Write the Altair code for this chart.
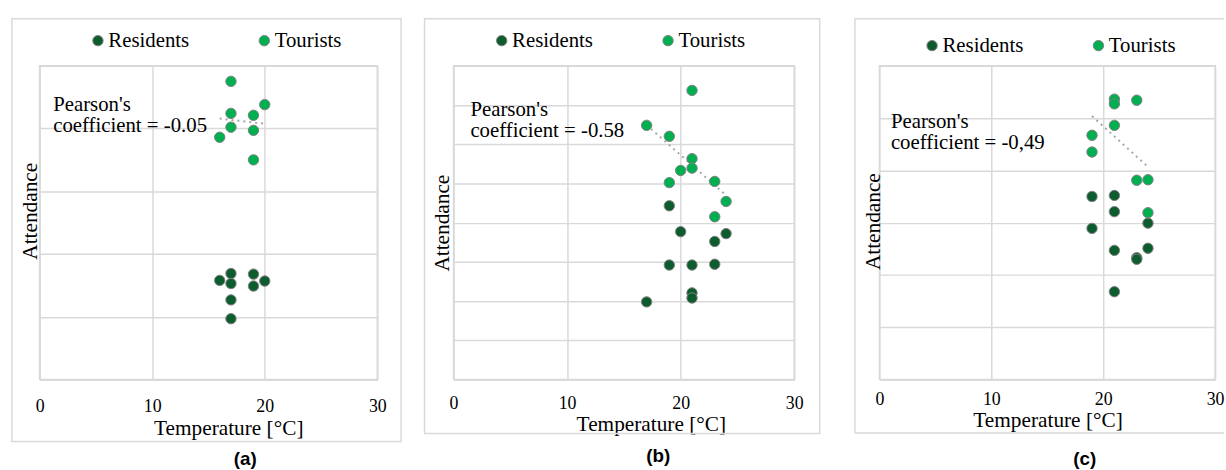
import altair as alt
import pandas as pd

# ---------------- data ----------------
# panel (a)
res_a_temp = [17, 19, 16, 20, 17, 19, 17, 17]
res_a_att = [1.69, 1.68, 1.58, 1.57, 1.53, 1.49, 1.27, 0.97]
tour_a_temp = [17, 20, 17, 19, 17, 19, 16, 19]
tour_a_att = [4.75, 4.38, 4.24, 4.21, 4.02, 3.97, 3.86, 3.50]
pearson_a = ["Pearson's", "coefficient = -0.05"]

# panel (b)
res_b_temp = [19, 20, 24, 23, 19, 21, 23, 21, 21, 17]
res_b_att = [4.43, 3.77, 3.72, 3.52, 2.92, 2.92, 2.94, 2.21, 2.08, 1.98]
tour_b_temp = [21, 17, 19, 21, 21, 20, 19, 23, 24, 23]
tour_b_att = [7.37, 6.48, 6.20, 5.63, 5.39, 5.33, 5.02, 5.05, 4.54, 4.15]
pearson_b = ["Pearson's", "coefficient = -0.58"]

# panel (c)
res_c_temp = [19, 21, 21, 24, 19, 21, 24, 23, 23, 21]
res_c_att = [3.50, 3.52, 3.21, 2.99, 2.89, 2.47, 2.51, 2.33, 2.30, 1.68]
tour_c_temp = [21, 21, 23, 21, 19, 19, 23, 24, 24]
tour_c_att = [5.36, 5.27, 5.34, 4.86, 4.67, 4.35, 3.81, 3.82, 3.19]
pearson_c = ["Pearson's", "coefficient = -0,49"]

groups = ["Residents", "Tourists"]
x_ticks = [0, 10, 20, 30]
tags = ["(a)", "(b)", "(c)"]

SERIF = "Liberation Serif"
DARK = "#0D5C2E"
LIGHT = "#00B050"
GRID = "#D9D9D9"
H = 317


def make_df(rt, ra, tt, ta):
    return pd.DataFrame({
        "temp": rt + tt,
        "att": ra + ta,
        "group": [groups[0]] * len(rt) + [groups[1]] * len(tt),
    })


one = pd.DataFrame({"k": [0]})


def panel(df, ymax, width, box, legend_xy, pearson, pearson_xy, xtitle_xy,
          ytitle_xy, tag, tag_xy, label_pad, open_right=False):
    x = alt.X("temp:Q", scale=alt.Scale(domain=[0, 30], nice=False),
              axis=alt.Axis(values=x_ticks, ticks=False, labelFlush=False,
                            labelPadding=label_pad, title="Temperature [°C]",
                            titleX=xtitle_xy[0], titleY=xtitle_xy[1],
                            titleAlign="center", titleBaseline="alphabetic"))
    y = alt.Y("att:Q", scale=alt.Scale(domain=[0, ymax], nice=False),
              axis=alt.Axis(values=list(range(0, ymax + 1)), ticks=False,
                            labels=False, domain=False, title="Attendance",
                            titleX=ytitle_xy[0], titleY=ytitle_xy[1],
                            titleAlign="center", titleBaseline="middle"))

    base = alt.Chart(df)
    trend = base.transform_filter(alt.datum.group == groups[1]).transform_regression(
        "temp", "att").mark_line(color="#A6A6A6", strokeWidth=2,
                                 strokeDash=[2, 4]).encode(x=x, y=y)
    pts = base.mark_circle(size=110, opacity=1, stroke="#7F7F7F",
                           strokeWidth=1).encode(
        x=x, y=y,
        color=alt.Color("group:N", title=None,
                        scale=alt.Scale(domain=groups, range=[DARK, LIGHT]),
                        legend=alt.Legend(orient="none", legendX=legend_xy[0],
                                          legendY=legend_xy[1],
                                          direction="horizontal",
                                          labelFont=SERIF, labelFontSize=21,
                                          labelColor="black", symbolType="circle",
                                          symbolSize=110,
                                          symbolStrokeColor="#7F7F7F",
                                          symbolStrokeWidth=1, symbolOpacity=1,
                                          columnPadding=65, labelOffset=0,
                                          padding=0)))
    ptext = alt.Chart(one).mark_text(font=SERIF, fontSize=21, align="left",
                                     baseline="top", lineHeight=21,
                                     color="black").encode(
        x=alt.value(pearson_xy[0]), y=alt.value(pearson_xy[1]),
        text=alt.value(pearson))
    ttext = alt.Chart(one).mark_text(font="Liberation Sans", fontSize=19,
                                     fontWeight="bold", align="center",
                                     baseline="middle", color="black").encode(
        x=alt.value(tag_xy[0]), y=alt.value(tag_xy[1]), text=alt.value(tag))

    l, r, t, b = box
    if open_right:
        frame = [
            alt.Chart(one).mark_rule(color=GRID, strokeWidth=1.5).encode(
                x=alt.value(l), x2=alt.value(r), y=alt.value(t)),
            alt.Chart(one).mark_rule(color=GRID, strokeWidth=1.5).encode(
                x=alt.value(l), x2=alt.value(r), y=alt.value(b)),
            alt.Chart(one).mark_rule(color=GRID, strokeWidth=1.5).encode(
                x=alt.value(l), y=alt.value(t), y2=alt.value(b)),
        ]
    else:
        frame = [alt.Chart(one).mark_rect(fill="transparent", stroke=GRID,
                                          strokeWidth=1.5).encode(
            x=alt.value(l), x2=alt.value(r), y=alt.value(t), y2=alt.value(b))]

    return alt.layer(*frame, trend, pts, ptext, ttext).properties(
        width=width, height=H)


pa = panel(make_df(res_a_temp, res_a_att, tour_a_temp, tour_a_att), 5, 341,
           (-28, 365, -47.5, 379.5), (48.4, -36), pearson_a, (13.7, 28.9),
           (190.5, 55.5), (-9.5, 146.5), tags[0], (207.7, 397.5), 18)
pb = panel(make_df(res_b_temp, res_b_att, tour_b_temp, tour_b_att), 8, 344,
           (-29.3, 369.7, -47.5, 371.5), (38.1, -36), pearson_b, (17, 33.9),
           (199.2, 51.5), (-10.8, 158.5), tags[1], (206.7, 394.5), 15)
pc = panel(make_df(res_c_temp, res_c_att, tour_c_temp, tour_c_att), 6, 339,
           (-24.7, 348, -47.5, 371), (42.7, -31), pearson_c, (11.6, 45.9),
           (169.8, 47.5), (-6.2, 157), tags[2], (207.3, 397), 11,
           open_right=True)

inner = alt.hconcat(pa, pb, spacing=20).resolve_scale(color="independent") \
    .resolve_legend(color="independent")
chart = alt.hconcat(inner, pc, spacing=31).resolve_scale(color="independent") \
    .resolve_legend(color="independent").properties(
    padding={"left": 10, "top": 15, "right": 0, "bottom": 0},
    background="white",
).configure_view(stroke=GRID, strokeWidth=1.5).configure_axis(
    gridColor=GRID, gridWidth=1.5, domainColor=GRID, domainWidth=1.5,
    labelFont=SERIF, labelFontSize=18, labelColor="black",
    titleFont=SERIF, titleFontSize=21.5, titleFontWeight="normal",
    titleColor="black")

chart.save("out.html", embed_options={"renderer": "svg", "actions": False})
